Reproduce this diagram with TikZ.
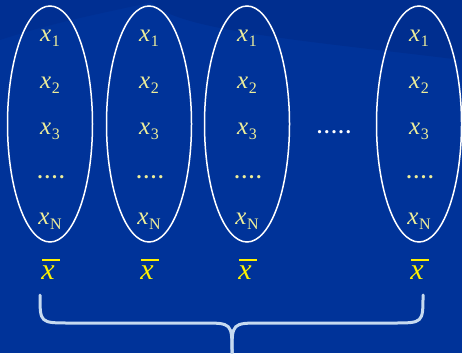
\documentclass[tikz,border=0pt]{standalone}
\usepackage{fontspec}
\setmainfont{Liberation Serif}
\usetikzlibrary{shapes.geometric}
\definecolor{bgblue}{HTML}{003399}
\definecolor{bgdark}{HTML}{002E8F}
\definecolor{paleyellow}{HTML}{EEEE99}
\definecolor{braceblue}{HTML}{C6DAF0}
\newcommand{\xsub}[1]{\textit{x}\kern0.5pt\raisebox{-5pt}{\fontsize{16}{16}\selectfont #1}}
\newcommand{\xbar}{\makebox[0pt][l]{\kern1pt\rule[0.62em]{0.58em}{1.8pt}}\textit{x}}
\begin{document}
\begin{tikzpicture}[x=1pt,y=-1pt,
  sample/.style={draw=white, line width=1.5pt, ellipse, inner sep=0pt, minimum width=85pt, minimum height=236pt},
  xt/.style={text=paleyellow, font=\fontsize{25}{25}\selectfont, inner sep=0pt},
  dt/.style={text=paleyellow, font=\bfseries\fontsize{20}{20}\selectfont, inner sep=0pt},
  mean/.style={text=yellow, font=\fontsize{30}{30}\selectfont, inner sep=0pt},
  bracestyle/.style={draw=braceblue, line width=3pt, line cap=round}]
\fill[bgblue] (0,0) rectangle (462,353);
\useasboundingbox (0,0) rectangle (462,353);
\fill[bgdark] (150,0) .. controls (170,30) and (300,40) .. (462,60) -- (462,0) -- cycle;
\fill[bgdark!70!bgblue] (0,0) -- (0,40) .. controls (60,20) and (120,10) .. (160,0) -- cycle;
% ellipses
\node[sample] (e1) at (50,124) {};
\node[sample] (e2) at (149,124) {};
\node[sample] (e3) at (247,124) {};
\node[sample] (e4) at (419,124) {};
% entries
\foreach \c/\n in {50/a,149/b,247/c,419/d}{
  \node[xt] (\n1) at (\c,38) {\xsub{1}};
  \node[xt] (\n2) at (\c,85) {\xsub{2}};
  \node[xt] (\n3) at (\c,131) {\xsub{3}};
  \node[dt] (\n4) at (\c+1,177) {.\kern2.2pt.\kern2.2pt.\kern2.2pt.};
  \node[xt] (\n5) at (\c,221) {\xsub{N}};
  \node[mean] (m\n) at (\c-2,269) {\xbar};
}
\node[dt, text=white] (gap) at (334,132) {.\kern2.2pt.\kern2.2pt.\kern2.2pt.\kern2.2pt.};
% brace
\draw[bracestyle] (40,295) .. controls (40,323) .. (70,323) -- (202,323) .. controls (232,323) .. (232,353);
\draw[bracestyle] (423,295) .. controls (423,323) .. (393,323) -- (262,323) .. controls (232,323) .. (232,353);
\end{tikzpicture}
\end{document}
